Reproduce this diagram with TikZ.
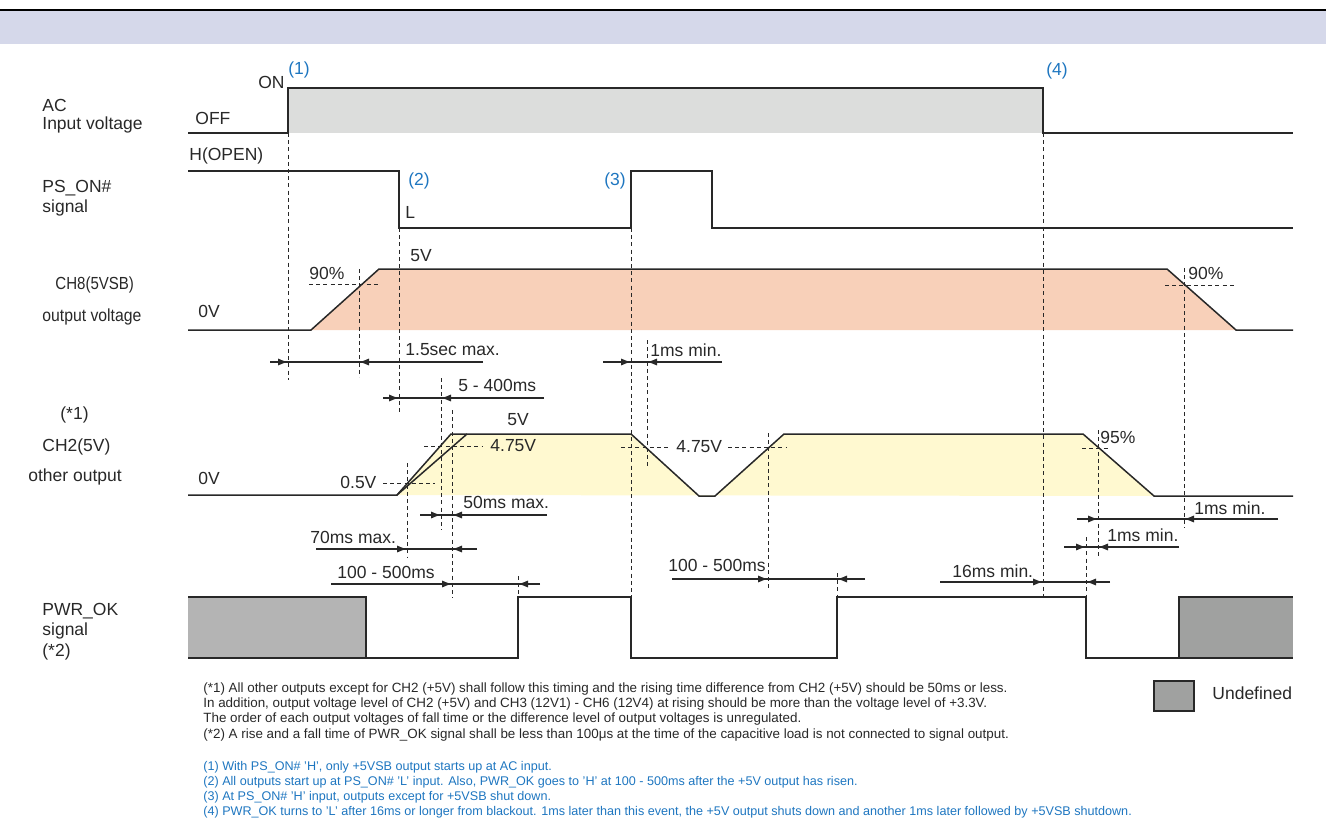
\documentclass[tikz,border=0pt]{standalone}
\usepackage{fontspec}
\setmainfont{Liberation Sans}
\usetikzlibrary{arrows.meta}

\definecolor{band}{RGB}{213,216,234}
\definecolor{acgray}{RGB}{220,221,220}
\definecolor{salmon}{RGB}{248,208,185}
\definecolor{pale}{RGB}{255,249,208}
\definecolor{undefA}{RGB}{180,180,180}
\definecolor{undefB}{RGB}{160,161,160}
\definecolor{evblue}{RGB}{30,118,192}
\definecolor{wire}{RGB}{40,40,40}

\begin{document}
\begin{tikzpicture}[x=0.5pt, y=-0.5pt,
        every node/.style={inner sep=0pt, anchor=west, text=wire, font=\fontsize{8.75}{10.5}\selectfont},
        wave/.style={line width=0.75pt, draw=wire},
        guide/.style={line width=0.5pt, draw=wire, dash pattern=on 2pt off 1.6pt},
        span/.style={line width=0.6pt, draw=wire},
        dim/.style={line width=0.6pt, draw=wire, -{Latex[length=5pt, width=3.6pt]}},
        note/.style={font=\fontsize{6.7}{8}\selectfont},
        event/.style={text=evblue},
        eventnote/.style={text=evblue, font=\fontsize{6.3}{8}\selectfont}]
        \useasboundingbox (0,0) rectangle (1326,824);

        % Header
        \fill[band] (0,11) rectangle (1326,44);
        \draw[line width=1pt, black] (0,10) -- (1326,10);

        % Fills
        \fill[acgray] (288,88) rectangle (1043,133);
        \fill[salmon] (311,330) -- (379,269) -- (1167,269) -- (1236,330) -- cycle;
        \fill[pale] (397,495) -- (451,434) -- (631,434) -- (699,496) -- (715,496)
                -- (784,434) -- (1083,434) -- (1154,496) -- cycle;
        \fill[undefA] (188,597) rectangle (366,658);
        \fill[undefB] (1179,597) rectangle (1293,658);

        % Guide lines
        \draw[guide] (288,133) -- (288,380);
        \draw[guide] (399,228) -- (399,415);
        \draw[guide] (631,228) -- (631,597);
        \draw[guide] (647,340) -- (647,468);
        \draw[guide] (1043,133) -- (1043,597);
        \draw[guide] (1184,268) -- (1184,528);
        \draw[guide] (359,269) -- (359,377);
        \draw[guide] (441,378) -- (441,530);
        \draw[guide] (452,410) -- (452,598);
        \draw[guide] (407,463) -- (407,557);
        \draw[guide] (518,576) -- (518,597);
        \draw[guide] (768,433) -- (768,590);
        \draw[guide] (837,573) -- (837,597);
        \draw[guide] (1098,430) -- (1098,558);
        \draw[guide] (1086,537) -- (1086,597);

        \draw[guide] (309,284) -- (379,284);
        \draw[guide] (1165,285) -- (1234,285);
        \draw[guide] (424,446) -- (483,446);
        \draw[guide] (383,483) -- (435,483);
        \draw[guide] (621,447) -- (668,447);
        \draw[guide] (728,447) -- (786,447);
        \draw[guide] (1082,448) -- (1110,448);

        % Waveforms
        \draw[wave] (188,133) -- (288,133) -- (288,88) -- (1043,88) -- (1043,133) -- (1293,133);
        \draw[wave] (188,171) -- (399,171) -- (399,228) -- (631,228) -- (631,171)
                -- (712,171) -- (712,228) -- (1293,228);
        \draw[wave] (188,330) -- (311,330) -- (379,269) -- (1167,269) -- (1236,330) -- (1293,330);
        \draw[wave] (188,495) -- (397,495) -- (451,434) -- (631,434) -- (699,496) -- (715,496)
                -- (784,434) -- (1083,434) -- (1154,496) -- (1293,496);
        \draw[wave] (397,495) -- (467,434);
        \draw[wave] (188,597) -- (366,597) -- (366,658) -- (518,658) -- (518,597) -- (631,597)
                -- (631,658) -- (837,658) -- (837,597) -- (1086,597) -- (1086,658) -- (1179,658)
                -- (1179,597) -- (1293,597);
        \draw[wave] (188,658) -- (366,658);
        \draw[wave] (1179,658) -- (1293,658);

        % Timing arrows
        \draw[span] (270,362) -- (483,362);
        \draw[dim] (270,362) -- (288,362);
        \draw[dim] (483,362) -- (359,362);
        \draw[span] (603,362) -- (722,362);
        \draw[dim] (603,362) -- (631,362);
        \draw[dim] (722,362) -- (647,362);
        \draw[span] (383,398) -- (544,398);
        \draw[dim] (383,398) -- (399,398);
        \draw[dim] (544,398) -- (441,398);
        \draw[span] (420,515) -- (547,515);
        \draw[dim] (420,515) -- (441,515);
        \draw[dim] (547,515) -- (452,515);
        \draw[span] (316,549) -- (477,549);
        \draw[dim] (316,549) -- (407,549);
        \draw[dim] (477,549) -- (452,549);
        \draw[span] (331,584) -- (540,584);
        \draw[dim] (331,584) -- (452,584);
        \draw[dim] (540,584) -- (518,584);
        \draw[span] (672,579) -- (865,579);
        \draw[dim] (672,579) -- (768,579);
        \draw[dim] (865,579) -- (837,579);
        \draw[span] (940,582) -- (1110,582);
        \draw[dim] (940,582) -- (1043,582);
        \draw[dim] (1110,582) -- (1086,582);
        \draw[span] (1064,547) -- (1179,547);
        \draw[dim] (1064,547) -- (1086,547);
        \draw[dim] (1179,547) -- (1098,547);
        \draw[span] (1077,519) -- (1278,519);
        \draw[dim] (1077,519) -- (1098,519);
        \draw[dim] (1278,519) -- (1184,519);

        % Signal names
        \node (ac) at (42,105) {AC};
        \node (acin) at (42,125) {Input voltage};
        \node (pson) at (42,188) {PS\_ON\#};
        \node (psonsig) at (42,208) {signal};
        \node (ch8) at (55,285) {\scalebox{0.86}[1]{CH8(5VSB)}};
        \node (ch8out) at (42,317) {\scalebox{0.9}[1]{output voltage}};
        \node (star1) at (60,415) {(*1)};
        \node (ch2) at (42,447) {CH2(5V)};
        \node (ch2out) at (28,477) {other output};
        \node (pwrok) at (42,611) {PWR\_OK};
        \node (pwroksig) at (42,631) {signal};
        \node (star2) at (42,652) {(*2)};

        % Levels
        \node[anchor=east] (on) at (285,82) {ON};
        \node (off) at (195,118) {OFF};
        \node (hopen) at (189,156) {H(OPEN)};
        \node (low) at (405,212) {L};
        \node (v5a) at (410,256) {5V};
        \node (p90a) at (309,273) {90\%};
        \node (p90b) at (1188,273) {90\%};
        \node (v0a) at (198,311) {0V};
        \node (v5b) at (507,420) {5V};
        \node (v475a) at (490,446) {4.75V};
        \node (v475b) at (676,447) {4.75V};
        \node (p95) at (1100,437) {95\%};
        \node (v0b) at (198,478) {0V};
        \node (v05) at (340,482) {0.5V};

        % Events
        \node[event] (e1) at (288,70) {(1)};
        \node[event] (e2) at (408,181) {(2)};
        \node[event] (e3) at (604,181) {(3)};
        \node[event] (e4) at (1046,71) {(4)};

        % Timing labels
        \node (t15) at (405,350) {1.5sec max.};
        \node (t1a) at (650,350) {1ms min.};
        \node (t5) at (458,385) {5 - 400ms};
        \node (t50) at (463,502) {50ms max.};
        \node (t1c) at (1194,508) {1ms min.};
        \node (t70) at (310,537) {70ms max.};
        \node (t1b) at (1107,535) {1ms min.};
        \node (t100a) at (337,572) {100 - 500ms};
        \node (t100b) at (668,565) {100 - 500ms};
        \node (t16) at (952,571) {16ms min.};

        % Legend
        \draw[line width=0.75pt, draw=wire, fill=undefB] (1154,681) rectangle (1194,711);
        \node (undef) at (1212,693) {Undefined};

        % Notes
        \node[note] (n1) at (203,689) {(*1) All other outputs except for CH2 (+5V) shall follow this timing and the rising time difference from CH2 (+5V) should be 50ms or less.};
        \node[note] (n2) at (203,704) {In addition, output voltage level of CH2 (+5V) and CH3 (12V1) - CH6 (12V4) at rising should be more than the voltage level of +3.3V.};
        \node[note] (n3) at (203,719) {The order of each output voltages of fall time or the difference level of output voltages is unregulated.};
        \node[note] (n4) at (203,735) {(*2) A rise and a fall time of PWR\_OK signal shall be less than 100μs at the time of the capacitive load is not connected to signal output.};
        \node[eventnote] (n5) at (203,767) {(1) With PS\_ON\# 'H', only +5VSB output starts up at AC input.};
        \node[eventnote] (n6) at (203,782) {(2) All outputs start up at PS\_ON\# 'L' input. Also, PWR\_OK goes to 'H' at 100 - 500ms after the +5V output has risen.};
        \node[eventnote] (n7) at (203,797) {(3) At PS\_ON\# 'H' input, outputs except for +5VSB shut down.};
        \node[eventnote] (n8) at (203,812) {(4) PWR\_OK turns to 'L' after 16ms or longer from blackout. 1ms later than this event, the +5V output shuts down and another 1ms later followed by +5VSB shutdown.};
\end{tikzpicture}
\end{document}
